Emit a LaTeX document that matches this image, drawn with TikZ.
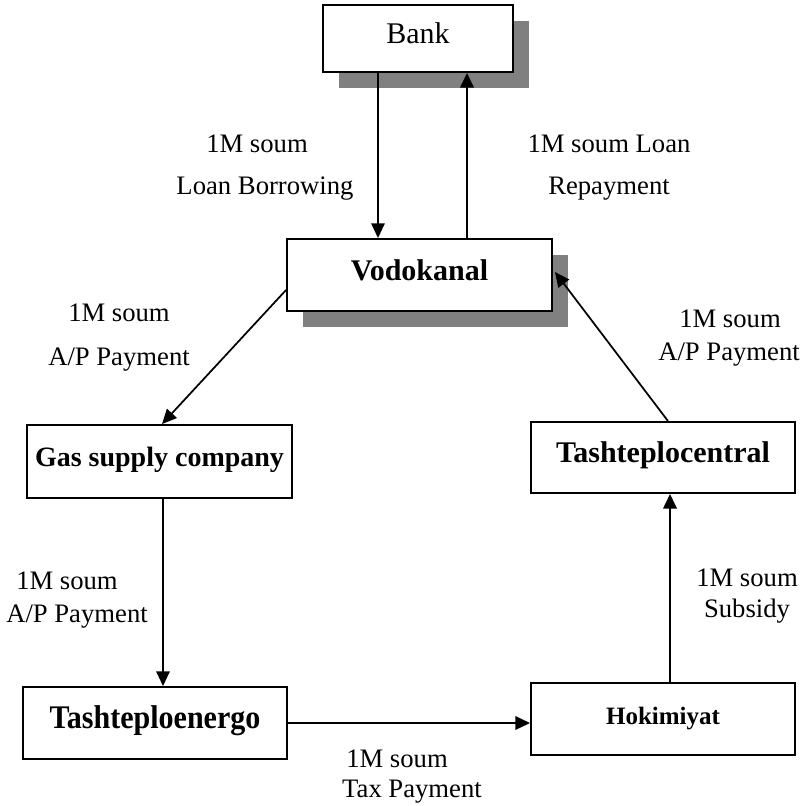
\documentclass[tikz,border=0pt]{standalone}
\usepackage{fontspec}
\setmainfont{Liberation Serif}
\usetikzlibrary{arrows.meta,calc,shadows}

\begin{document}
\begin{tikzpicture}[x=0.75pt,y=-0.75pt,
  box/.style={draw=black,line width=1.4pt,fill=white,inner sep=0pt,
    text height=0.8em,text depth=0.05em},
  boxfont/.style={font=\bfseries\fontsize{#1}{#1}\selectfont},
  shadowed/.style={drop shadow={shadow xshift=12pt,shadow yshift=-12pt,
    fill=black!50,opacity=1}},
  arr/.style={line width=1.3pt,-{Triangle[length=11pt,width=10pt]}},
  arrthick/.style={arr,line width=1.9pt},
  lbl/.style={anchor=base,inner sep=0pt,font=\fontsize{20}{24}\selectfont}]

\useasboundingbox (0,0) rectangle (804,806);

% organisations
\node[box,shadowed,minimum width=142.5pt,minimum height=50.25pt,
  font=\fontsize{22.5}{22.5}\selectfont] (bank) at (418,38.5) {Bank};
\node[box,shadowed,boxfont=22.5,minimum width=198.75pt,minimum height=54pt]
  (vodo) at (419.5,275) {Vodokanal};
\node[box,boxfont=21,minimum width=198.75pt,minimum height=54.75pt]
  (gas) at (159.5,461.5) {Gas supply company};
\node[box,boxfont=22.5,minimum width=198pt,minimum height=53.25pt]
  (central) at (663,457.5) {Tashteplocentral};
\node[box,boxfont=24.75,minimum width=198pt,minimum height=54pt]
  (energo) at (155,723) {\scalebox{0.91}[1]{Tashteploenergo}};
\node[box,boxfont=18.75,minimum width=198pt,minimum height=54pt]
  (hokim) at (663,719) {Hokimiyat};

% connector end points on the box edges
\coordinate (bankout) at ($(bank.south)+(-40,0)$);
\coordinate (vodoin) at (bankout |- vodo.north);
\coordinate (vodoup) at ($(vodo.north)+(47.5,0)$);
\coordinate (bankin) at (vodoup |- bank.south);
\coordinate (gasout) at ($(gas.south)+(3.5,0)$);
\coordinate (energoin) at (gasout |- energo.north);
\coordinate (hokimout) at ($(hokim.north)+(7,0)$);
\coordinate (centralin) at (hokimout |- central.south);

% money flows
\draw[arr] (bankout) -- (vodoin);
\draw[arrthick] (vodoup) -- (bankin);
\draw[arr] ($(vodo.west)+(0,15)$) -- ($(gas.north)+(2.5,0)$);
\draw[arr] (gasout) -- (energoin);
\draw[arr,line width=1.6pt] (energo.east) -- (energo.east -| hokim.west);
\draw[arrthick] (hokimout) -- (centralin);
\draw[arr] ($(central.north)+(5,0)$) -- ($(vodo.east)+(2,-3)$);

% flow labels
\node[lbl] (l1a) at (257,152) {1M soum};
\node[lbl] (l1b) at (265,195) {Loan Borrowing};
\node[lbl] (l2a) at (609,152) {1M soum Loan};
\node[lbl] (l2b) at (609,195) {Repayment};
\node[lbl] (l3a) at (119,321) {1M soum};
\node[lbl] (l3b) at (119,365) {A/P Payment};
\node[lbl] (l4a) at (730,327) {1M soum};
\node[lbl] (l4b) at (729,360) {A/P Payment};
\node[lbl] (l5a) at (67,589) {1M soum};
\node[lbl] (l5b) at (77,622) {A/P Payment};
\node[lbl] (l6a) at (747,586) {1M soum};
\node[lbl] (l6b) at (747,617) {Subsidy};
\node[lbl] (l7a) at (397,767) {1M soum};
\node[lbl] (l7b) at (412,797) {Tax Payment};
\end{tikzpicture}
\end{document}
